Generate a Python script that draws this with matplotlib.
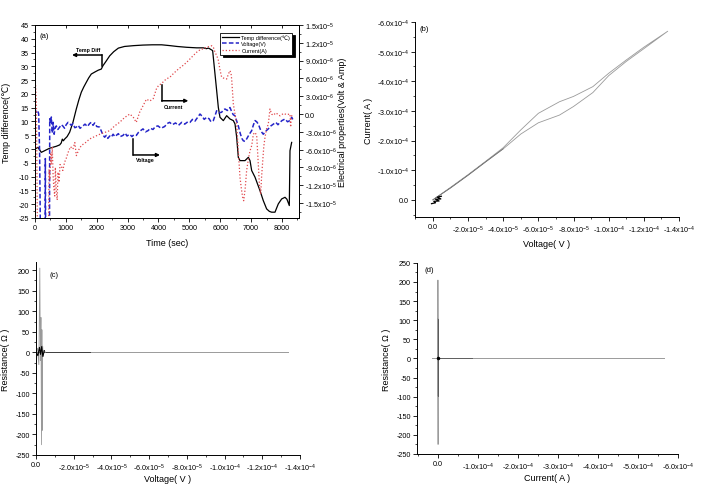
"""
Four-panel thermo-electric measurement figure: (a) time series, (b) I-V, (c) R-V, (d) R-I
"""

import numpy as np
import matplotlib
matplotlib.use("Agg")
import matplotlib.pyplot as plt
from matplotlib.ticker import MultipleLocator


plt.rcParams["font.family"] = ["Liberation Sans", "DejaVu Sans"]
plt.rcParams["mathtext.fontset"] = "custom"
plt.rcParams["mathtext.rm"] = "Liberation Sans"
plt.rcParams["axes.linewidth"] = 0.7
plt.rcParams["axes.unicode_minus"] = False


# ----------------------------------------------------------
# Panel (a) data : time series
# ----------------------------------------------------------

time_temp = [0, 97, 205, 313, 475, 690, 800, 850, 885, 920, 960, 1040, 1123,
             1230, 1338, 1420, 1500, 1580, 1662, 1740, 1824, 1950, 2050, 2148,
             2200, 2300, 2420, 2550, 2700, 2900, 3200, 3500, 3800, 4100, 4372,
             4600, 4911, 5235, 5452, 5550, 5620, 5668, 5754, 5797, 5884, 5938,
             5992, 6100, 6208, 6316, 6424, 6478, 6532, 6585, 6640, 6802, 6910,
             6964, 7018, 7126, 7288, 7394, 7502, 7590, 7664, 7773, 7880, 7989,
             8097, 8160, 8237, 8259, 8313]
temp_diff = [0, 0.6, -1.2, -0.6, 0.3, 1.0, 1.5, 2.2, 3.6, 3.0, 3.6, 4.5, 6.1,
             9.7, 14.5, 17.8, 20.6, 22.5, 24.2, 25.8, 27.2, 28.0, 28.6, 29.0,
             30.2, 31.8, 33.8, 35.3, 36.6, 37.2, 37.5, 37.7, 37.8, 37.8, 37.5,
             37.2, 36.9, 36.7, 36.7, 36.4, 36.6, 36.3, 35.7, 30.9, 21.2, 15.1,
             11.5, 10.3, 12.1, 10.9, 10.3, 9.1, 4.3, -3.0, -4.2, -4.2, -3.0,
             -4.2, -7.8, -10.2, -15.1, -18.7, -21.7, -22.6, -22.9, -22.9, -19.9,
             -18.1, -17.5, -18.2, -20.5, -0.6, 2.4]

# voltage in micro-volts
time_volt = [0, 40, 90, 120, 150, 175, 330, 335, 345, 470, 478, 500, 530, 560,
             590, 620, 650, 690, 740, 800, 850, 900, 960, 1010, 1070, 1120,
             1176, 1230, 1290, 1338, 1400, 1460, 1555, 1620, 1700, 1770, 1824,
             1880, 1933, 2000, 2094, 2150, 2200, 2256, 2310, 2360, 2420, 2472,
             2530, 2590, 2635, 2700, 2760, 2850, 2920, 2980, 3066, 3140, 3200,
             3282, 3350, 3420, 3498, 3580, 3660, 3740, 3822, 3900, 3984, 4080,
             4200, 4280, 4362, 4450, 4550, 4650, 4750, 4850, 4950, 5020, 5100,
             5180, 5260, 5344, 5420, 5480, 5560, 5640, 5700, 5776, 5830, 5884,
             5960, 6046, 6100, 6154, 6230, 6316, 6370, 6420, 6478, 6530, 6585,
             6650, 6700, 6747, 6800, 6855, 6930, 7018, 7070, 7126, 7180, 7234,
             7300, 7350, 7394, 7470, 7556, 7640, 7718, 7800, 7870, 7935, 8000,
             8097, 8180, 8259, 8313, 8350]
voltage_uv = [0.85, 0.3, 0.6, 0.0, -6.4, -20, -20, -7.5, -20, -20, -0.8, -1.5,
              -0.5, -3.2, -1.4, -3.4, -2.4, -2.0, -2.6, -2.2, -1.8, -2.0, -2.4,
              -1.8, -1.4, -1.6, -1.9, -1.6, -2.3, -2.2, -1.9, -2.4, -2.0, -1.7,
              -2.1, -1.6, -1.4, -1.9, -1.5, -2.1, -2.2, -2.9, -3.5, -3.9, -3.6,
              -4.1, -3.7, -3.9, -3.4, -3.8, -3.6, -3.3, -3.8, -3.6, -3.2, -3.7,
              -3.4, -3.8, -3.5, -3.6, -3.1, -2.8, -2.5, -3.0, -2.8, -2.4, -2.6,
              -2.1, -2.0, -2.4, -2.1, -1.6, -1.4, -1.8, -1.5, -1.9, -1.4, -1.7,
              -1.3, -1.4, -0.9, -1.2, -0.6, 0.0, -0.4, -0.9, -0.55, -0.8, -1.3,
              -1.1, -0.3, 0.56, 0.2, 0.3, 0.7, 0.85, 0.6, 1.1, 0.4, -0.1, -0.3,
              -1.1, -2.0, -3.3, -4.1, -4.5, -4.6, -4.2, -3.5, -2.8, -1.9, -1.1,
              -1.3, -1.7, -2.6, -3.1, -3.4, -2.9, -2.5, -2.0, -1.7, -1.4, -1.8,
              -1.4, -1.1, -0.84, -1.3, -1.1, -0.55, -0.9]

# current in micro-amps
time_curr = [0, 20, 45, 80, 440, 455, 480, 510, 530, 560, 585, 610, 640, 660,
             690, 720, 745, 780, 810, 850, 900, 960, 1010, 1070, 1150, 1230,
             1290, 1340, 1420, 1500, 1640, 1770, 1930, 2100, 2260, 2420, 2580,
             2740, 2900, 3070, 3180, 3280, 3390, 3500, 3610, 3720, 3830, 3930,
             4000, 4090, 4250, 4370, 4500, 4650, 4800, 4910, 5080, 5235, 5340,
             5450, 5590, 5720, 5780, 5830, 5890, 5940, 5990, 6046, 6130, 6208,
             6270, 6316, 6350, 6370, 6424, 6478, 6532, 6585, 6640, 6690, 6726,
             6760, 6810, 6855, 6910, 6964, 7020, 7072, 7126, 7180, 7235, 7270,
             7310, 7340, 7372, 7410, 7450, 7500, 7556, 7610, 7664, 7720, 7800,
             7935, 8050, 8151, 8259, 8280, 8300, 8340]
current_ua = [6.5, 4.8, 2.0, -20, -20, -9.3, -11, -6.5, -8.5, -5.5, -10, -12.5,
              -13.8, -9, -12.9, -14.5, -9.8, -11.5, -8.5, -8.7, -9.5, -8.1,
              -7.5, -6.5, -5.5, -5.9, -4.8, -7.0, -6.0, -5.3, -4.8, -4.2, -3.8,
              -3.4, -3.1, -2.8, -2.0, -1.4, -0.6, 0.0, -0.5, -1.4, 0.3, 1.4,
              2.5, 2.2, 2.6, 4.2, 4.8, 5.1, 5.9, 6.2, 6.9, 7.6, 8.2, 8.7, 9.6,
              10.4, 10.8, 11.0, 11.3, 11.5, 11.2, 10.4, 9.8, 9.0, 7.5, 6.2,
              6.0, 5.9, 6.8, 7.3, 6.8, 5.9, 1.7, 0.0, -1.7, -6.2, -10.7, -12.8,
              -14.0, -14.6, -12.4, -9.5, -7.6, -6.2, -5.3, -3.4, -3.1, -3.6,
              -8.7, -12.0, -13.5, -10.5, -8.2, -5.5, -3.9, -2.5, -1.7, 0.85,
              0.0, -0.2, 0.2, -0.3, 0.1, -0.1, 0.0, -2.2, -0.5, 0.0]

a_left_ticks = [-25, -20, -15, -10, -5, 0, 5, 10, 15, 20, 25, 30, 35, 40, 45]
a_right_ticks = [-1.5e-5, -1.2e-5, -9e-6, -6e-6, -3e-6, 0, 3e-6, 6e-6, 9e-6,
                 1.2e-5, 1.5e-5]
a_right_labels = ["-1.5x10$^{-5}$", "-1.2x10$^{-5}$", "-9.0x10$^{-6}$",
                  "-6.0x10$^{-6}$", "-3.0x10$^{-6}$", "0.0", "3.0x10$^{-6}$",
                  "6.0x10$^{-6}$", "9.0x10$^{-6}$", "1.2x10$^{-5}$",
                  "1.5x10$^{-5}$"]
a_time_ticks = [0, 1000, 2000, 3000, 4000, 5000, 6000, 7000, 8000]


# ----------------------------------------------------------
# Panel (b) data : I-V loop
# ----------------------------------------------------------

iv_voltage = [0, -1e-5, -2e-5, -3e-5, -4e-5, -5e-5, -6e-5, -7.2e-5, -8e-5,
              -9.1e-5, -1.0e-4, -1.1e-4, -1.2e-4, -1.336e-4,
              -1.2e-4, -1.1e-4, -1.0e-4, -9.1e-5, -8e-5, -7.2e-5, -6e-5,
              -5e-5, -4e-5, -3e-5, -2e-5, -1e-5, 0]
iv_current = [0, -0.40e-4, -0.83e-4, -1.28e-4, -1.72e-4, -2.22e-4, -2.60e-4,
              -2.86e-4, -3.15e-4, -3.62e-4, -4.19e-4, -4.67e-4, -5.10e-4,
              -5.69e-4,
              -5.15e-4, -4.72e-4, -4.27e-4, -3.82e-4, -3.49e-4, -3.31e-4,
              -2.92e-4, -2.36e-4, -1.76e-4, -1.30e-4, -0.85e-4, -0.42e-4, 0]
iv_origin_voltage = [0.8e-6, -1.5e-6, -0.5e-6, -3.5e-6, -1.5e-6, -4.5e-6,
                     -2.5e-6, -4.8e-6]
iv_origin_current = [1.3e-5, 1.0e-5, 0.5e-5, 0.4e-5, -0.2e-5, -0.3e-5,
                     -0.9e-5, -1.2e-5]

b_v_ticks = [0, -2e-5, -4e-5, -6e-5, -8e-5, -1.0e-4, -1.2e-4, -1.4e-4]
b_v_labels = ["0.0", "-2.0x10$^{-5}$", "-4.0x10$^{-5}$", "-6.0x10$^{-5}$",
              "-8.0x10$^{-5}$", "-1.0x10$^{-4}$", "-1.2x10$^{-4}$",
              "-1.4x10$^{-4}$"]
b_i_ticks = [0, -1e-4, -2e-4, -3e-4, -4e-4, -5e-4, -6e-4]
b_i_labels = ["0.0", "-1.0x10$^{-4}$", "-2.0x10$^{-4}$", "-3.0x10$^{-4}$",
              "-4.0x10$^{-4}$", "-5.0x10$^{-4}$", "-6.0x10$^{-4}$"]


# ----------------------------------------------------------
# Panel (c) data : resistance vs voltage
# ----------------------------------------------------------

rv_voltage = [0, -0.8e-6, -1.5e-6, -2.0e-6, -2.3e-6, -2.6e-6, -2.9e-6,
              -3.1e-6, -3.3e-6, -3.5e-6, -3.8e-6, -4.2e-6, -5e-6]
rv_resist = [0, 10, -30, 205, -20, 85, -225, 55, -190, 15, -10, 5, 0]
rv_core_voltage = [0, -1e-6, -1.8e-6, -2.4e-6, -3.0e-6, -3.6e-6, -4.4e-6]
rv_core_resist = [0, -8, 12, -5, 14, -10, 4]
rv_tail_voltage = [0, -1.336e-4]
rv_dark_voltage = [0, -2.86e-5]

c_r_ticks = [-250, -200, -150, -100, -50, 0, 50, 100, 150, 200]


# ----------------------------------------------------------
# Panel (d) data : resistance vs current
# ----------------------------------------------------------

ri_current = [0, 0.2e-6, -0.2e-6, 0.1e-6, -0.1e-6, 0]
ri_resist = [0, 205, -225, 103, -98, 0]
ri_tail_current = [1.5e-5, -5.65e-4]
ri_dark_current = [0, -8.4e-5]

d_i_ticks = [0, -1e-4, -2e-4, -3e-4, -4e-4, -5e-4, -6e-4]
d_i_labels = ["0.0", "-1.0x10$^{-4}$", "-2.0x10$^{-4}$", "-3.0x10$^{-4}$",
              "-4.0x10$^{-4}$", "-5.0x10$^{-4}$", "-6.0x10$^{-4}$"]
d_r_ticks = [-250, -200, -150, -100, -50, 0, 50, 100, 150, 200, 250]


# ----------------------------------------------------------
# Style helpers
# ----------------------------------------------------------

TICK_SIZE = 5.2
LABEL_SIZE = 6.5
GRAY = "#9a9a9a"


def style_ticks(ax):
    ax.tick_params(which="major", length=3, width=0.6, direction="out",
                   labelsize=TICK_SIZE, pad=1.5)
    ax.tick_params(which="minor", length=1.6, width=0.5, direction="out")


def open_frame(ax):
    ax.spines["top"].set_visible(False)
    ax.spines["right"].set_visible(False)


fig = plt.figure(figsize=(7.01, 4.85), dpi=100)


# ----------------------------------------------------------
# Panel (a)
# ----------------------------------------------------------

ax_a = fig.add_axes([0.0499, 0.5485, 0.3766, 0.398])
ax_a2 = ax_a.twinx()

line_t, = ax_a.plot(time_temp, temp_diff, color="black", lw=0.9,
                    label="Temp difference(\u2103)")
line_v, = ax_a2.plot(time_volt, np.array(voltage_uv) * 1e-6, color="#2424c8",
                     lw=1.1, ls=(0, (3, 1.5)), label="Voltage(V)")
line_c, = ax_a2.plot(time_curr, np.array(current_ua) * 1e-6, color="#e0484c",
                     lw=0.9, ls=(0, (1, 1.6)), label="Current(A)")

ax_a.set_xlim(0, 8550)
ax_a.set_ylim(-25, 45)
ax_a2.set_ylim(-1.75e-5, 1.5e-5)

ax_a.set_xticks(a_time_ticks)
ax_a.set_yticks(a_left_ticks)
ax_a.xaxis.set_minor_locator(MultipleLocator(500))
ax_a.yaxis.set_minor_locator(MultipleLocator(2.5))
ax_a2.set_yticks(a_right_ticks, a_right_labels)
ax_a2.yaxis.set_minor_locator(MultipleLocator(1.5e-6))
style_ticks(ax_a)
style_ticks(ax_a2)

top_axis = ax_a.secondary_xaxis("top")
top_axis.set_xticks(a_time_ticks)
top_axis.tick_params(direction="in", length=2.5, width=0.6, labeltop=False)

ax_a.set_xlabel("Time (sec)", fontsize=LABEL_SIZE, labelpad=5)
ax_a.set_ylabel("Temp difference(\u2103)", fontsize=LABEL_SIZE, labelpad=5)
ax_a2.set_ylabel("Electrical properties(Volt & Amp)", fontsize=LABEL_SIZE,
                 labelpad=1)

ax_a.text(0.018, 0.965, "(a)", transform=ax_a.transAxes, fontsize=5.5,
          va="top", ha="left")

legend = ax_a2.legend(handles=[line_t, line_v, line_c], loc="upper right",
                      bbox_to_anchor=(0.985, 0.975), fontsize=4,
                      frameon=True, fancybox=False, handlelength=3,
                      labelspacing=0.25, borderpad=0.35, handletextpad=0.5,
                      shadow={"color": "black", "alpha": 1})
legend.get_frame().set_edgecolor("black")
legend.get_frame().set_linewidth(0.6)

# elbow arrows with captions
arrow_props = dict(arrowstyle="-|>", lw=1.1, color="black",
                   mutation_scale=5, shrinkA=0, shrinkB=0)

ax_a.plot([2170, 2170], [30.0, 34.1], color="black", lw=1.1)
ax_a.annotate("", xy=(1200, 34.1), xytext=(2170, 34.1), arrowprops=arrow_props)
ax_a.text(1720, 35.3, "Temp Diff", fontsize=3.8, fontweight="bold",
          ha="center", va="bottom")

ax_a.plot([4103, 4103], [23.2, 17.5], color="black", lw=1.1)
ax_a.annotate("", xy=(4966, 17.5), xytext=(4103, 17.5), arrowprops=arrow_props)
ax_a.text(4480, 16.5, "Current", fontsize=3.8, fontweight="bold",
          ha="center", va="top")

ax_a.plot([3184, 3184], [3.65, -2.15], color="black", lw=1.1)
ax_a.annotate("", xy=(4048, -2.15), xytext=(3184, -2.15), arrowprops=arrow_props)
ax_a.text(3563, -3.0, "Voltage", fontsize=3.8, fontweight="bold",
          ha="center", va="top")


# ----------------------------------------------------------
# Panel (b)
# ----------------------------------------------------------

ax_b = fig.add_axes([0.592, 0.5505, 0.3766, 0.402])
ax_b.plot(iv_voltage, iv_current, color=GRAY, lw=0.6)
ax_b.plot(iv_voltage[:5], iv_current[:5], color="#707070", lw=0.5)
ax_b.plot(iv_origin_voltage, iv_origin_current, color="black", lw=0.9)

ax_b.set_xlim(1.02e-5, -1.4e-4)
ax_b.set_ylim(0.58e-4, -6.0e-4)
ax_b.set_xticks(b_v_ticks, b_v_labels)
ax_b.set_yticks(b_i_ticks, b_i_labels)
ax_b.xaxis.set_minor_locator(MultipleLocator(1e-5))
ax_b.yaxis.set_minor_locator(MultipleLocator(0.5e-4))
style_ticks(ax_b)
open_frame(ax_b)

ax_b.set_xlabel("Voltage( V )", fontsize=LABEL_SIZE, labelpad=3)
ax_b.set_ylabel("Current( A )", fontsize=LABEL_SIZE, labelpad=3)
ax_b.text(0.018, 0.985, "(b)", transform=ax_b.transAxes, fontsize=5.5,
          va="top", ha="left")


# ----------------------------------------------------------
# Panel (c)
# ----------------------------------------------------------

ax_c = fig.add_axes([0.0514, 0.0598, 0.3766, 0.398])
ax_c.plot(rv_tail_voltage, [0, 0], color=GRAY, lw=0.7)
ax_c.plot(rv_dark_voltage, [0, 0], color="#404040", lw=0.7)
ax_c.plot(rv_voltage, rv_resist, color=GRAY, lw=0.6)
ax_c.plot(rv_core_voltage, rv_core_resist, color="black", lw=0.8)

ax_c.set_xlim(0, -1.4e-4)
ax_c.set_ylim(-250, 220)
ax_c.set_xticks(b_v_ticks, b_v_labels)
ax_c.set_yticks(c_r_ticks)
ax_c.xaxis.set_minor_locator(MultipleLocator(1e-5))
ax_c.yaxis.set_minor_locator(MultipleLocator(25))
style_ticks(ax_c)
open_frame(ax_c)

ax_c.set_xlabel("Voltage( V )", fontsize=LABEL_SIZE, labelpad=1)
ax_c.set_ylabel("Resistance( \u03a9 )", fontsize=LABEL_SIZE, labelpad=4)
ax_c.text(0.05, 0.955, "(c)", transform=ax_c.transAxes, fontsize=5.5,
          va="top", ha="left")


# ----------------------------------------------------------
# Panel (d)
# ----------------------------------------------------------

ax_d = fig.add_axes([0.5949, 0.0619, 0.372, 0.394])
ax_d.plot(ri_tail_current, [0, 0], color=GRAY, lw=0.7)
ax_d.plot(ri_dark_current, [0, 0], color="#606060", lw=0.7)
ax_d.plot(ri_current, ri_resist, color=GRAY, lw=0.6)
ax_d.plot([0, 0], [ri_resist[3], ri_resist[4]], color="#505050", lw=0.6)
ax_d.plot([0], [0], marker="o", ms=1.5, color="black")

ax_d.set_xlim(5.25e-5, -6.0e-4)
ax_d.set_ylim(-250, 250)
ax_d.set_xticks(d_i_ticks, d_i_labels)
ax_d.set_yticks(d_r_ticks)
ax_d.xaxis.set_minor_locator(MultipleLocator(0.5e-4))
ax_d.yaxis.set_minor_locator(MultipleLocator(25))
style_ticks(ax_d)
open_frame(ax_d)

ax_d.set_xlabel("Current( A )", fontsize=LABEL_SIZE, labelpad=1)
ax_d.set_ylabel("Resistance( \u03a9 )", fontsize=LABEL_SIZE, labelpad=4)
ax_d.text(0.03, 0.985, "(d)", transform=ax_d.transAxes, fontsize=5.5,
          va="top", ha="left")


fig.savefig("out.png", dpi=100)
